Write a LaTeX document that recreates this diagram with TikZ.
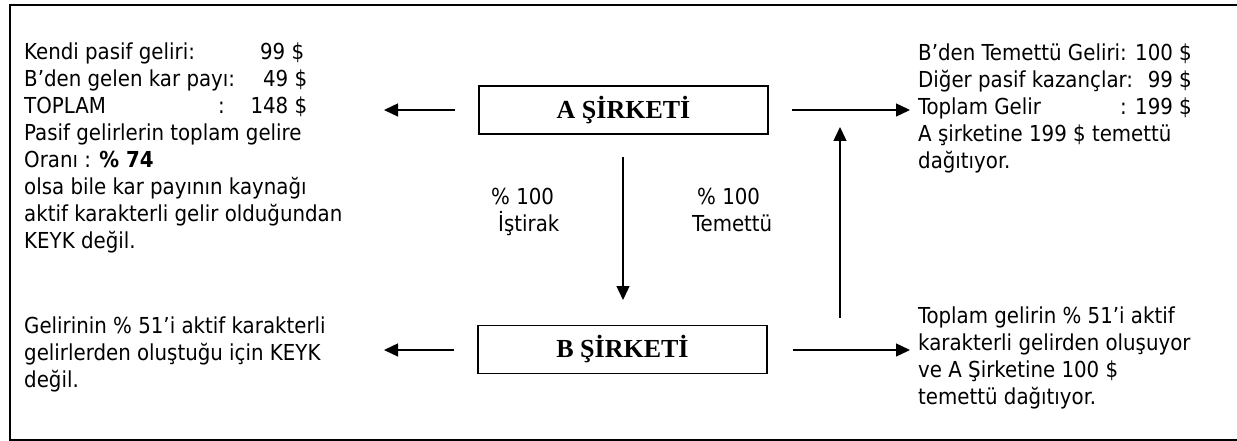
\documentclass[tikz,border=0pt]{standalone}
\usepackage{fontspec}
\setmainfont{DejaVu Sans Condensed}
\newfontfamily\boxfont{Liberation Serif}
\usetikzlibrary{arrows.meta}
\newlength\rtwidth
\tikzset{
  txt/.style={inner sep=0pt, anchor=base west, align=left, font=\fontsize{22}{27}\selectfont},
  firm/.style={draw, line width=1.5pt, minimum width=289pt, minimum height=48pt, inner sep=0pt, font=\boxfont\bfseries\fontsize{26}{30}\selectfont},
  arr/.style={line width=1.4pt, -{Triangle[length=14pt,width=13pt]}},
}
\begin{document}
\begin{tikzpicture}[x=1pt,y=-1pt]
\useasboundingbox (0,0) rectangle (1237,441);
\clip (0,0) rectangle (1237,441);
\draw[line width=2pt] (10,5) rectangle (1250,439.5);

\node[firm] (A) at (623.5,110) {A ŞİRKETİ};
\node[firm] (B) at (622.5,349.5) {B ŞİRKETİ};

% base anchor = baseline of the last line
\node[txt] (lt) at (24,248.5) {\makebox[280pt][l]{Kendi pasif geliri:\hfill 99 \$}\\
\makebox[283pt][l]{B’den gelen kar payı:\hfill 49 \$}\\
\makebox[283pt][l]{\makebox[194pt][l]{TOPLAM}:\hfill 148 \$}\\
Pasif gelirlerin toplam gelire\\
Oranı : \textbf{\% 74}\\
olsa bile kar payının kaynağı\\
aktif karakterli gelir olduğundan\\
KEYK değil.};

\node[txt] (rt) at (918,168) {\settowidth{\rtwidth}{B’den Temettü Geliri: 100 \$}\global\rtwidth=\rtwidth B’den Temettü Geliri: 100 \$\\
\makebox[\rtwidth][l]{Diğer pasif kazançlar:\hfill 99 \$}\\
\makebox[\rtwidth][l]{Toplam Gelir\hfill : 199 \$}\\
A şirketine 199 \$ temettü\\
dağıtıyor.};

\node[txt] (lb) at (24,387.5) {Gelirinin \% 51’i aktif karakterli\\
gelirlerden oluştuğu için KEYK\\
değil.};

\node[txt] (rb) at (918,404.5) {Toplam gelirin \% 51’i aktif\\
karakterli gelirden oluşuyor\\
ve A Şirketine 100 \$\\
temettü dağıtıyor.};

\node[txt] (l1) at (491,231) {\% 100\\\hspace*{7pt}İştirak};
\node[txt] (l2) at (692,231) {\hspace*{5pt}\% 100\\Temettü};

\coordinate (aL) at (384,110);
\coordinate (aR) at (910,110);
\coordinate (bL) at (384,350);
\coordinate (bR) at (910,350);
\coordinate (dS) at (623,157);
\coordinate (dE) at (623,300);
\coordinate (uS) at (840,318);
\coordinate (uE) at (840,127);

\draw[arr] ([xshift=-23pt]A.west) -- (aL);
\draw[arr] ([xshift=23pt]A.east) -- (aR);
\draw[arr] ([xshift=-23pt]B.west |- bL) -- (bL);
\draw[arr] ([xshift=25pt]B.east |- bR) -- (bR);
\draw[arr] (dS) -- (dE);
\draw[arr] (uS) -- (uE);
\end{tikzpicture}
\end{document}
